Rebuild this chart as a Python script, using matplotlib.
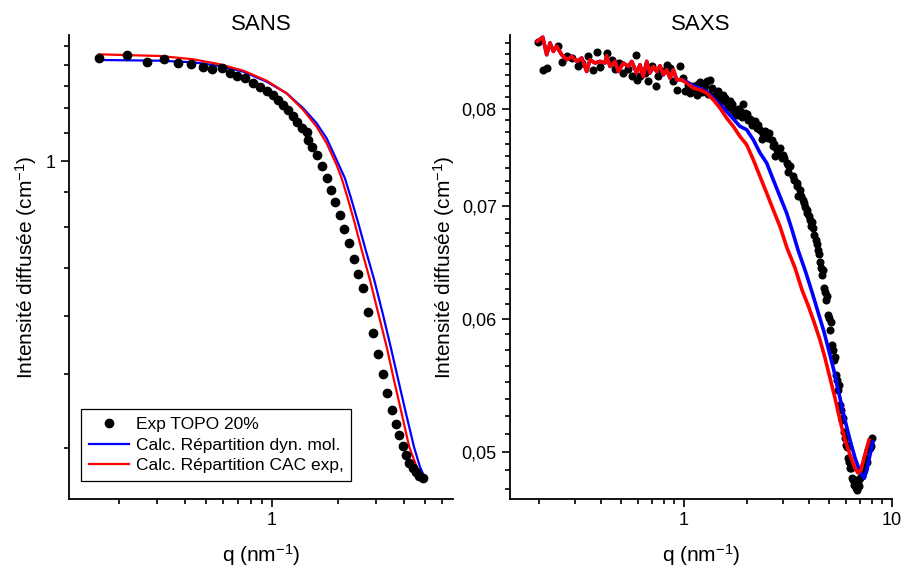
import numpy as np
import matplotlib
matplotlib.use("Agg")
import matplotlib.pyplot as plt
from matplotlib.ticker import FixedLocator, FuncFormatter, NullFormatter, LogLocator, MultipleLocator

plt.rcParams['font.family'] = ['Liberation Sans', 'DejaVu Sans']
plt.rcParams['mathtext.default'] = 'regular'

# ---------------- SANS data ----------------
sans_q = [0.1627, 0.2170, 0.2696, 0.3224, 0.3734, 0.4267, 0.4857, 0.5306, 0.5893, 0.6430,
          0.6899, 0.7528, 0.8216, 0.8815, 0.9458, 1.0137, 1.0685, 1.1260, 1.1871, 1.2512,
          1.305, 1.3667, 1.4400, 1.465, 1.518, 1.600, 1.686, 1.777, 1.859, 1.950,
          2.044, 2.143, 2.247, 2.368, 2.483, 2.612, 2.753, 2.901, 3.058, 3.223,
          3.361, 3.521, 3.671, 3.813, 3.952, 4.092, 4.236, 4.390, 4.545, 4.706, 4.909]
sans_exp = [1.435, 1.452, 1.4175, 1.431, 1.409, 1.404, 1.389, 1.379, 1.384, 1.3595,
            1.3464, 1.3354, 1.3146, 1.296, 1.2777, 1.2584, 1.2363, 1.2147, 1.1935, 1.1686,
            1.1455, 1.1195, 1.1063, 1.075, 1.0504, 1.0208, 0.9830, 0.9428, 0.9077, 0.8701,
            0.8331, 0.7966, 0.7606, 0.7219, 0.6878, 0.6557, 0.6085, 0.5684, 0.5327, 0.5002,
            0.4726, 0.4484, 0.4294, 0.4156, 0.4025, 0.3917, 0.3829, 0.3766, 0.3723, 0.3686, 0.3661]

sans_dyn_q = [0.1627, 0.3081, 0.4371, 0.5790, 0.7395, 0.9458, 1.1672, 1.3899, 1.600, 1.777,
              1.974, 2.154, 2.2950, 2.4703, 2.6870, 2.932, 3.203, 3.483, 3.774, 4.092,
              4.452, 4.740, 4.996]
sans_dyn = [1.4262, 1.4225, 1.4144, 1.3956, 1.3672, 1.3193, 1.2659, 1.2006, 1.1392, 1.0813,
            1.0034, 0.9428, 0.8821, 0.8142, 0.7400, 0.6735, 0.6054, 0.5450, 0.4916, 0.4440,
            0.4014, 0.3783, 0.3657]

sans_cac_q = [0.1627, 0.3081, 0.4371, 0.5790, 0.7395, 0.9458, 1.1672, 1.3899, 1.600, 1.777,
              1.974, 2.081, 2.2233, 2.3933, 2.5763, 2.803, 3.058, 3.340, 3.607, 3.910,
              4.236, 4.578, 4.946]
sans_cac = [1.4557, 1.4469, 1.4298, 1.4041, 1.3723, 1.3239, 1.2659, 1.1935, 1.1258, 1.0628,
            0.9864, 0.9428, 0.8792, 0.8088, 0.7400, 0.6735, 0.6054, 0.5450, 0.4916, 0.4440,
            0.4014, 0.3783, 0.3647]

# ---------------- SAXS data ----------------
saxs_q = [0.1993, 0.2093, 0.2187, 0.2487, 0.2582, 0.2730, 0.2884, 0.3082, 0.3223, 0.3467,
          0.3664, 0.3803, 0.3946, 0.4249, 0.4493, 0.4658, 0.4886, 0.5107, 0.5400, 0.5606,
          0.5876, 0.5962, 0.6142, 0.6492, 0.6737, 0.6993, 0.7334, 0.7521, 0.7813, 0.8258,
          0.8562, 0.8884, 0.9224, 0.9567, 0.9922, 1.011, 1.0686, 1.1084, 1.1512, 1.1938,
          1.2383, 1.2855, 1.3335, 1.3831, 1.4360, 1.4896, 1.5451, 1.6044, 1.6640, 1.7258,
          1.7920, 1.8586, 1.9646, 2.0380, 2.1163, 2.1943, 2.3196, 2.4515, 2.4983, 2.6397,
          2.6870, 2.7911, 2.8939, 3.0019, 3.1176, 3.2330, 3.3534, 3.4819, 3.6118, 3.7462,
          3.8897, 4.0348, 4.1843, 4.3116, 4.4079, 4.5060, 4.6078, 4.7110, 4.8164, 4.9243,
          5.0346, 5.1471, 5.2634, 5.3811, 5.5014, 5.6234, 5.7494, 5.8780, 6.0092, 6.1445,
          6.2834, 6.4237, 6.5673, 6.7141, 6.8642, 7.0193, 7.1761, 7.3365, 7.4989, 7.6665,
          7.8380, 8.013,
          1.9214, 2.0764, 2.2438, 2.3714, 2.5630, 2.7384, 2.9592, 3.1623, 3.5327, 3.8168,
          4.1246, 4.3837, 4.5566, 4.7643, 4.9787, 5.2024, 5.4398, 5.6859, 5.9429, 6.2136,
          6.4938, 6.7887, 7.1761, 7.4989, 7.8380,
          1.0453, 1.0806, 1.1295, 1.1675, 1.2204, 1.2618, 1.3045, 1.3637, 1.4094, 1.4571,
          1.5224, 1.5743, 1.6277, 1.7013, 1.7586, 1.8182, 1.9005, 2.0087, 2.1471, 2.2694,
          2.3985, 2.5351, 2.7081, 2.8314, 3.0254, 3.1623, 3.3801, 3.4946, 3.6517, 3.7751,
          3.9023, 3.9905, 4.0799, 4.2170, 4.4566, 4.6603, 4.8707, 5.0904, 5.3211, 5.5624,
          5.8131, 6.0775, 6.3532, 6.6399, 6.9401, 7.2557, 7.5838, 7.9250]
saxs_exp = [0.08762, 0.08439, 0.08459, 0.08714, 0.08524, 0.08594, 0.08576, 0.08485, 0.08517, 0.08602,
            0.08439, 0.08642, 0.08470, 0.08634, 0.08556, 0.08447, 0.08517, 0.08401, 0.08447, 0.08362,
            0.08614, 0.08324, 0.08362, 0.08401, 0.08305, 0.08477, 0.08249, 0.08362, 0.08419, 0.08497,
            0.08459, 0.08305, 0.08211, 0.08477, 0.08343, 0.08192, 0.08173, 0.08249, 0.08155, 0.08294,
            0.08192, 0.08305, 0.08324, 0.08136, 0.08173, 0.08099, 0.08155, 0.08063, 0.08081, 0.07989,
            0.07934, 0.07970, 0.07952, 0.07880, 0.07827, 0.07862, 0.07773, 0.07755, 0.07702, 0.07667,
            0.07597, 0.07563, 0.07580, 0.07511, 0.07426, 0.07392, 0.07291, 0.07225, 0.07159, 0.07062,
            0.06965, 0.06870, 0.06793, 0.06684, 0.06593, 0.06486, 0.06371, 0.06258, 0.06156, 0.06032,
            0.05909, 0.05789, 0.05670, 0.05555, 0.05442, 0.05331, 0.05222, 0.05137, 0.05046, 0.04959,
            0.04890, 0.04824, 0.04778, 0.04758, 0.04798, 0.04824, 0.04877, 0.04911, 0.04959, 0.05012,
            0.05046, 0.05095,
            0.08055, 0.07891, 0.07795, 0.07678, 0.07741, 0.07501, 0.07481, 0.07338, 0.07101, 0.06994,
            0.06851, 0.06648, 0.06433, 0.06224, 0.06007, 0.05749, 0.05517, 0.05295, 0.05095, 0.04931,
            0.04811, 0.04745, 0.04837, 0.04931, 0.05025,
            0.08268, 0.08211, 0.08222, 0.08279, 0.08189, 0.08257, 0.08166, 0.08234, 0.08133, 0.08200,
            0.08088, 0.08121, 0.08022, 0.08055, 0.07956, 0.08000, 0.07912, 0.07945, 0.07838, 0.07827,
            0.07730, 0.07688, 0.07625, 0.07522, 0.07481, 0.07409, 0.07258, 0.07198, 0.07101, 0.07033,
            0.06937, 0.06908, 0.06814, 0.06730, 0.06557, 0.06415, 0.06190, 0.05974, 0.05694, 0.05479,
            0.05236, 0.05032, 0.04890, 0.04811, 0.04771, 0.04864, 0.04931, 0.05039]

saxs_low_q = [0.1971, 0.2093, 0.2187, 0.2269, 0.2353, 0.2443, 0.2582, 0.2730, 0.2884, 0.3048,
              0.3223, 0.3405, 0.3532, 0.3733, 0.3946, 0.4170, 0.4249, 0.4407, 0.4658, 0.4831,
              0.5107, 0.5400, 0.5606, 0.5923, 0.6142, 0.6371, 0.6618, 0.6861, 0.7121, 0.7390,
              0.7665, 0.7952, 0.8258, 0.8562, 0.8884, 0.9224, 0.9748]
saxs_low = [0.08774, 0.08824, 0.08614, 0.08755, 0.08654, 0.08714, 0.08614, 0.08556, 0.08594, 0.08536,
            0.08576, 0.08419, 0.08556, 0.08517, 0.08536, 0.08517, 0.08602, 0.08477, 0.08536, 0.08419,
            0.08517, 0.08477, 0.08536, 0.08401, 0.08497, 0.08362, 0.08536, 0.08401, 0.08477, 0.08419,
            0.08485, 0.08381, 0.08439, 0.08343, 0.08439, 0.08324, 0.08324]

saxs_dyn_q = saxs_low_q + [1.0304, 1.1084, 1.1938, 1.2855, 1.3831, 1.6044, 1.8586, 2.0016, 2.1540, 2.3196,
                           2.4983, 2.6870, 2.8939, 3.1176, 3.2947, 3.5327, 3.8168, 4.1246, 4.4079, 4.7110,
                           5.0346, 5.3211, 5.6234, 5.9429, 6.2834, 6.6399, 7.0193, 7.3365, 7.5838, 7.8380, 8.104]
saxs_dyn = saxs_low + [0.08301, 0.08251, 0.08228, 0.08189, 0.08118, 0.07970, 0.07809, 0.07773, 0.07667, 0.07530,
                       0.07426, 0.07258, 0.07094, 0.06933, 0.06787, 0.06593, 0.06415, 0.06224, 0.06056, 0.05893,
                       0.05709, 0.05555, 0.05382, 0.05222, 0.05081, 0.04959, 0.04864, 0.04824, 0.04877, 0.04979, 0.05067]

saxs_cac_q = saxs_low_q + [1.0304, 1.1084, 1.1938, 1.2855, 1.3831, 1.4896, 1.6044, 1.7258, 1.8586, 2.0016,
                           2.1540, 2.3196, 2.4983, 2.6870, 2.8939, 3.1275, 3.4178, 3.6933, 3.9466, 4.2170,
                           4.5060, 4.7643, 5.0346, 5.3211, 5.6234, 5.9429, 6.2834, 6.6399, 6.8642, 7.0958,
                           7.3365, 7.5838, 7.7518]
saxs_cac = saxs_low + [0.08286, 0.08229, 0.08211, 0.08173, 0.08099, 0.08007, 0.07898, 0.07809, 0.07702, 0.07615,
                       0.07460, 0.07291, 0.07126, 0.06965, 0.06808, 0.06611, 0.06433, 0.06241, 0.06113, 0.05974,
                       0.05828, 0.05686, 0.05532, 0.05382, 0.05222, 0.05081, 0.04979, 0.04890, 0.04857, 0.04877,
                       0.04959, 0.05032, 0.05081]

# ---------------- figure ----------------
fig = plt.figure(figsize=(9.03, 5.72), dpi=100)
ax1 = fig.add_axes([0.0764, 0.1276, 0.4252, 0.8112])
ax2 = fig.add_axes([0.5648, 0.1276, 0.4230, 0.8112])

p = 0.15
def fwd(v):
    return -np.power(np.clip(v, 1e-9, None), -p)
def inv(u):
    return np.power(np.clip(-u, 1e-9, None), -1.0 / p)

# SANS
ax1.set_xscale('log')
ax1.set_yscale('function', functions=(fwd, inv))
ax1.plot(sans_dyn_q, sans_dyn, color='blue', lw=1.6, label='Calc. Répartition dyn. mol.', zorder=2)
ax1.plot(sans_cac_q, sans_cac, color='red', lw=1.6, label='Calc. Répartition CAC exp,', zorder=3)
ax1.plot(sans_q, sans_exp, 'o', color='black', ms=6, label='Exp TOPO 20%', zorder=4)
ax1.set_xlim(0.1183, 6.707)
ax1.set_ylim(0.3442, 1.5617)
ax1.yaxis.set_major_locator(FixedLocator([1.0]))
ax1.yaxis.set_minor_locator(FixedLocator([0.4, 0.5, 0.6, 0.7, 0.8, 0.9, 1.1, 1.2, 1.3, 1.4, 1.5]))
ax1.yaxis.set_major_formatter(FuncFormatter(lambda v, pos: f"{v:g}"))
ax1.yaxis.set_minor_formatter(NullFormatter())
ax1.xaxis.set_major_locator(FixedLocator([1.0]))
ax1.xaxis.set_minor_locator(LogLocator(base=10, subs=np.arange(2, 10)))
ax1.xaxis.set_major_formatter(FuncFormatter(lambda v, pos: f"{v:g}"))
ax1.xaxis.set_minor_formatter(NullFormatter())
ax1.set_title('SANS', fontsize=16, pad=2)
ax1.set_xlabel('q (nm$^{-1}$)', fontsize=15, labelpad=9)
ax1.set_ylabel('Intensité diffusée (cm$^{-1}$)', fontsize=15, labelpad=5)

h, l = ax1.get_legend_handles_labels()
leg = ax1.legend([h[2], h[0], h[1]], [l[2], l[0], l[1]], loc='lower left',
                 bbox_to_anchor=(0.031, 0.039), borderaxespad=0, fontsize=12.5,
                 fancybox=False, edgecolor='black', framealpha=1, handlelength=2.3,
                 handletextpad=0.4, labelspacing=0.3, borderpad=0.45)
leg.get_frame().set_linewidth(0.9)

# SAXS
ax2.set_xscale('log')
ax2.set_yscale('log')
ax2.plot(saxs_q, saxs_exp, 'o', color='black', ms=4.8, zorder=2)
ax2.plot(saxs_dyn_q, saxs_dyn, color='blue', lw=2.6, zorder=3)
ax2.plot(saxs_cac_q, saxs_cac, color='red', lw=2.6, zorder=4)
ax2.set_xlim(0.1457, 10)
ax2.set_ylim(0.04687, 0.0885)
ax2.yaxis.set_major_locator(FixedLocator([0.05, 0.06, 0.07, 0.08]))
ax2.yaxis.set_minor_locator(MultipleLocator(0.00125))
ax2.yaxis.set_major_formatter(FuncFormatter(lambda v, pos: f"{v:.2f}".replace('.', ',')))
ax2.yaxis.set_minor_formatter(NullFormatter())
ax2.xaxis.set_major_locator(FixedLocator([1.0, 10.0]))
ax2.xaxis.set_minor_locator(LogLocator(base=10, subs=np.arange(2, 10)))
ax2.xaxis.set_major_formatter(FuncFormatter(lambda v, pos: f"{v:g}"))
ax2.xaxis.set_minor_formatter(NullFormatter())
ax2.set_title('SAXS', fontsize=16, pad=2)
ax2.set_xlabel('q (nm$^{-1}$)', fontsize=15, labelpad=9)
ax2.set_ylabel('Intensité diffusée (cm$^{-1}$)', fontsize=15, labelpad=3)

for ax in (ax1, ax2):
    ax.spines['top'].set_visible(False)
    ax.spines['right'].set_visible(False)
    ax.spines['left'].set_linewidth(1.3)
    ax.spines['bottom'].set_linewidth(1.3)
    ax.tick_params(which='major', direction='out', length=6, width=1.2, labelsize=13)
    ax.tick_params(which='minor', direction='out', length=3.5, width=1.2)

fig.savefig('out.png', dpi=100)
